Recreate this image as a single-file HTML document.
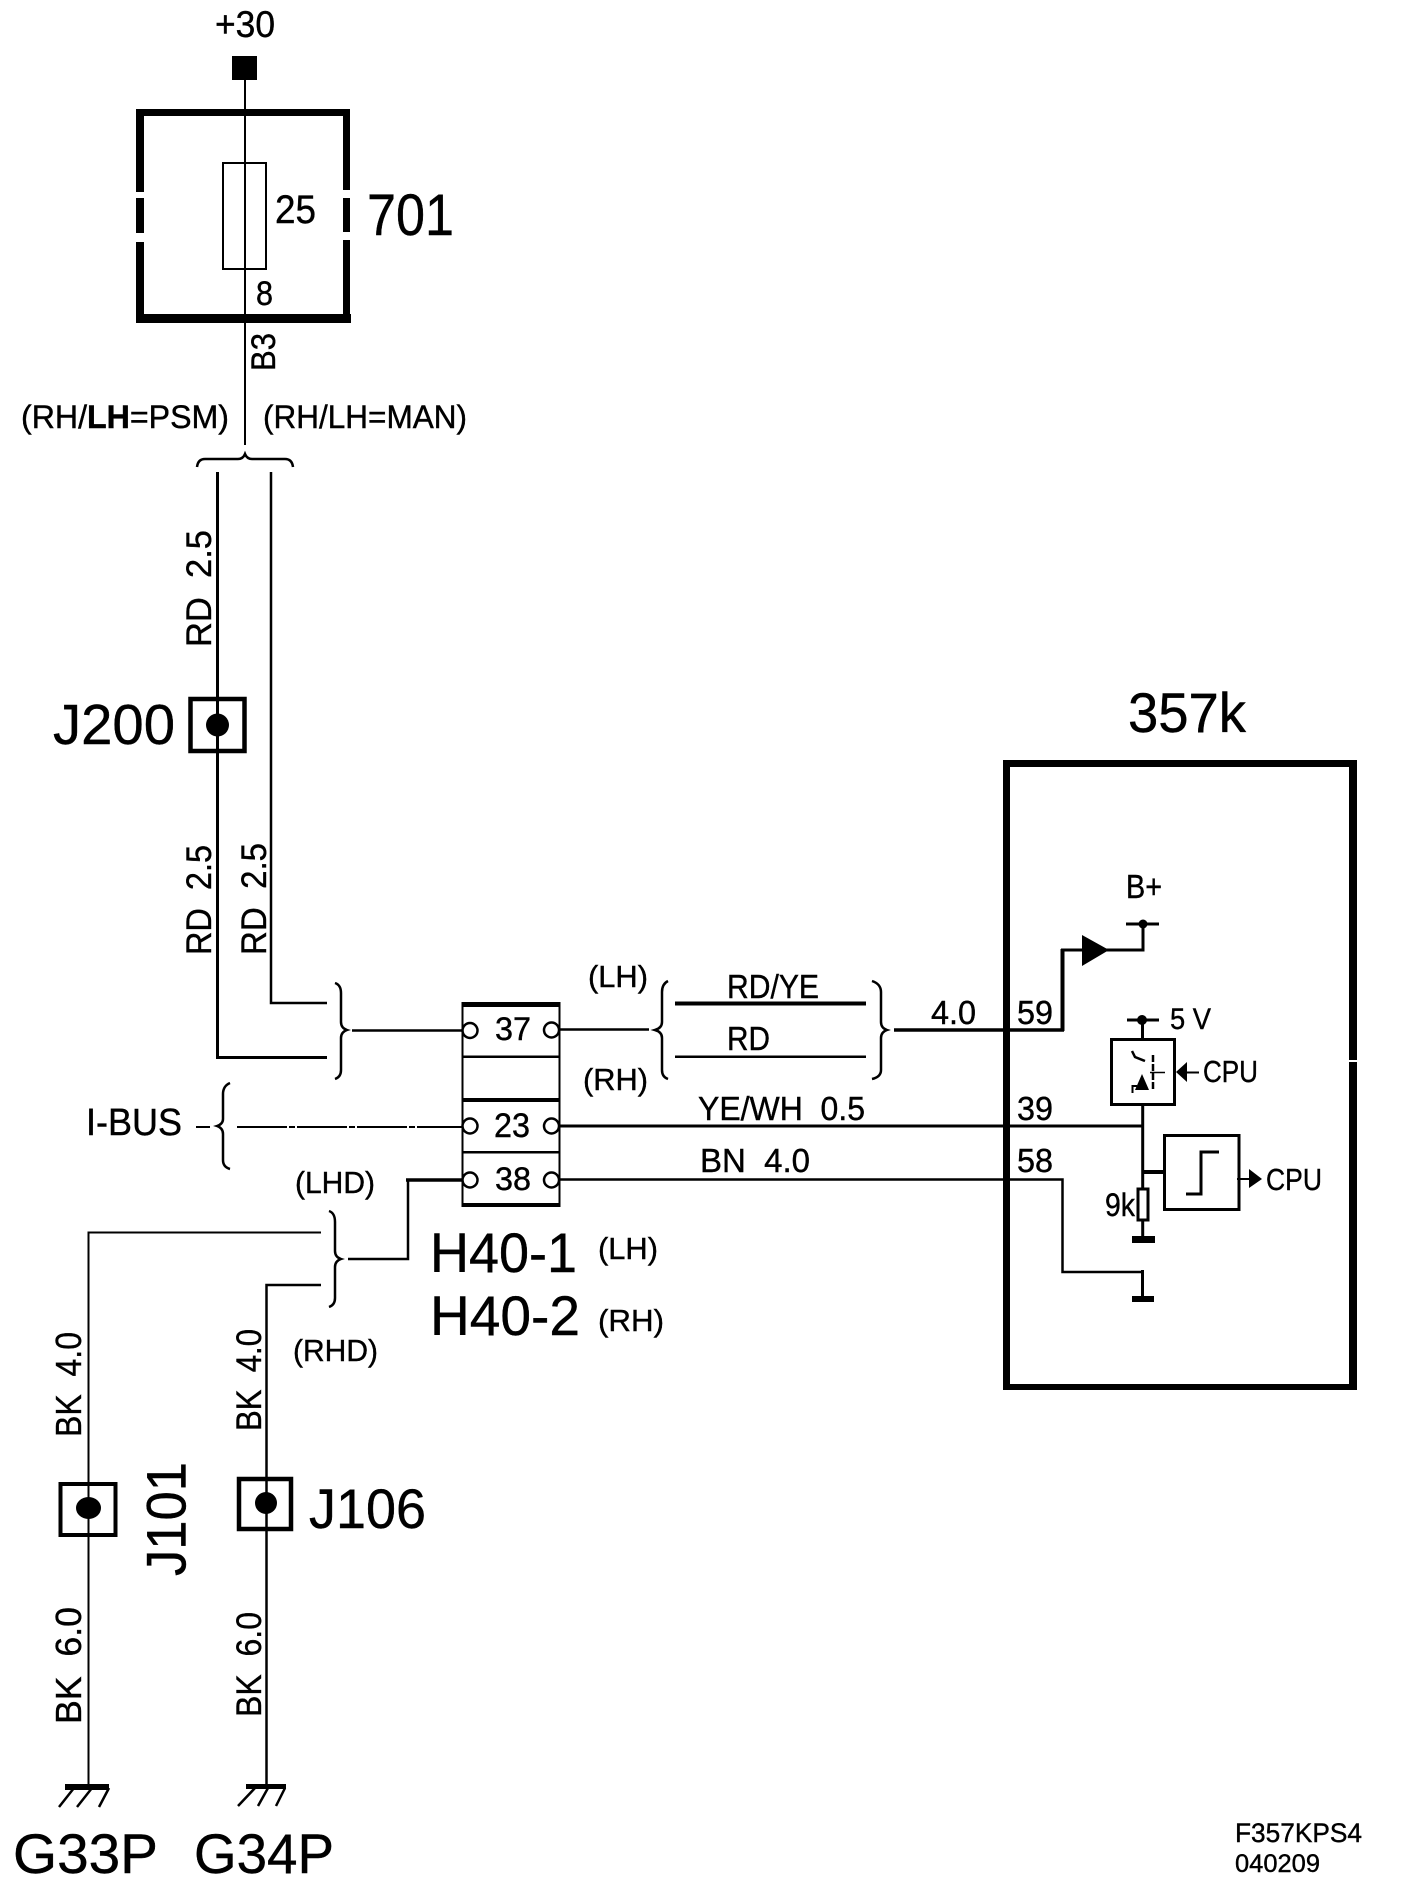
<!DOCTYPE html>
<html>
<head>
<meta charset="utf-8">
<style>
html,body{margin:0;padding:0;background:#fff;}
svg{display:block;}
text{font-family:"Liberation Sans",sans-serif;fill:#000;stroke:#000;stroke-width:.4;white-space:pre;}
.w{fill:none;stroke:#000;}
</style>
</head>
<body>
<svg xmlns="http://www.w3.org/2000/svg" width="1408" height="1898" viewBox="0 0 1408 1898">
<rect width="1408" height="1898" fill="#fff"/>

<!-- +30 and fuse box 701 -->
<text x="215" y="37" font-size="37" textLength="60" lengthAdjust="spacingAndGlyphs">+30</text>
<rect x="232" y="56" width="25" height="24" fill="#000"/>
<line class="w" x1="245" y1="80" x2="245" y2="445" stroke-width="2"/>
<g fill="#000">
<rect x="136" y="109" width="214" height="7"/>
<rect x="136" y="314" width="215" height="9"/>
<rect x="136" y="109" width="8" height="83"/>
<rect x="136" y="198" width="8" height="35"/>
<rect x="136" y="242" width="8" height="80"/>
<rect x="343" y="109" width="7" height="81"/>
<rect x="343" y="198" width="7" height="34"/>
<rect x="343" y="240" width="7" height="80"/>
</g>
<rect class="w" x="223" y="163" width="43" height="106" stroke-width="2"/>
<text x="275" y="223" font-size="40" textLength="41" lengthAdjust="spacingAndGlyphs">25</text>
<text x="367" y="235" font-size="58" textLength="87" lengthAdjust="spacingAndGlyphs">701</text>
<text x="256" y="305" font-size="34" textLength="17" lengthAdjust="spacingAndGlyphs">8</text>
<text transform="translate(275,371) rotate(-90)" font-size="34" textLength="38" lengthAdjust="spacingAndGlyphs">B3</text>

<text x="21" y="428" font-size="32" textLength="208" lengthAdjust="spacingAndGlyphs">(RH/<tspan font-weight="bold">LH</tspan>=PSM)</text>
<text x="263" y="428" font-size="32" textLength="204" lengthAdjust="spacingAndGlyphs">(RH/LH=MAN)</text>

<path class="w" stroke-width="2.5" d="M197 467 Q198 459 205 459 L238 459 Q243 459 245 454 Q247 459 252 459 L285 459 Q292 459 293 467"/>

<!-- upper wires -->
<path class="w" stroke-width="3" d="M217.5 472 L217.5 1057.5 L327 1057.5"/>
<path class="w" stroke-width="2.5" d="M271 472 L271 1003 L327 1003"/>

<text transform="translate(211,647) rotate(-90)" font-size="35" textLength="117" lengthAdjust="spacingAndGlyphs">RD  2.5</text>
<text transform="translate(211,955) rotate(-90)" font-size="35" textLength="110" lengthAdjust="spacingAndGlyphs">RD  2.5</text>
<text transform="translate(266,955) rotate(-90)" font-size="35" textLength="112" lengthAdjust="spacingAndGlyphs">RD  2.5</text>

<!-- J200 -->
<rect class="w" x="190.5" y="699" width="54" height="52" stroke-width="4.5"/>
<ellipse cx="217.5" cy="725" rx="11.5" ry="11.5" fill="#000"/>
<text x="53" y="744" font-size="57" textLength="122" lengthAdjust="spacingAndGlyphs">J200</text>

<!-- left brace join -->
<path class="w" stroke-width="2.5" d="M335 983 Q341 985 341 993 L341 1022 Q341 1028 347 1030 Q341 1032 341 1038 L341 1070 Q341 1077 335 1079"/>
<line class="w" x1="352" y1="1030.5" x2="463" y2="1030.5" stroke-width="2.5"/>

<!-- connector H40 -->
<rect class="w" x="462.5" y="1003" width="97" height="203" stroke-width="2"/>
<rect x="462" y="1002" width="98" height="5" fill="#000"/>
<rect x="462" y="1055.5" width="98" height="2.5" fill="#000"/>
<rect x="462" y="1098" width="98" height="4" fill="#000"/>
<rect x="462" y="1151" width="98" height="2.5" fill="#000"/>
<rect x="462" y="1203" width="98" height="4" fill="#000"/>
<g class="w" fill="#fff" stroke="#000" stroke-width="2.5">
<circle cx="470" cy="1030.5" r="7.5" fill="#fff"/>
<circle cx="551.5" cy="1030" r="7.5" fill="#fff"/>
<circle cx="470" cy="1126" r="7.5" fill="#fff"/>
<circle cx="551.5" cy="1126" r="7.5" fill="#fff"/>
<circle cx="470" cy="1180" r="7.5" fill="#fff"/>
<circle cx="551.5" cy="1180" r="7.5" fill="#fff"/>
</g>
<text x="495" y="1040" font-size="32" textLength="36" lengthAdjust="spacingAndGlyphs">37</text>
<text x="494" y="1137" font-size="34" textLength="36" lengthAdjust="spacingAndGlyphs">23</text>
<text x="495" y="1190" font-size="32" textLength="36" lengthAdjust="spacingAndGlyphs">38</text>

<!-- I-BUS -->
<text x="86" y="1135" font-size="38" textLength="96" lengthAdjust="spacingAndGlyphs">I-BUS</text>
<line class="w" x1="196" y1="1127" x2="210" y2="1127" stroke-width="2"/>
<path class="w" stroke-width="2.5" d="M230 1083 Q223 1086 223 1094 L223 1119 Q223 1124 217 1126 Q223 1128 223 1134 L223 1160 Q223 1167 230 1169"/>
<line class="w" x1="237" y1="1127" x2="462" y2="1127" stroke-width="2" stroke-dasharray="50 2 6 2"/>

<!-- LH/RH and mid brace -->
<text x="588" y="987" font-size="31" textLength="60" lengthAdjust="spacingAndGlyphs">(LH)</text>
<text x="583" y="1090" font-size="31" textLength="65" lengthAdjust="spacingAndGlyphs">(RH)</text>
<line class="w" x1="559" y1="1029.5" x2="649" y2="1029.5" stroke-width="2.5"/>
<path class="w" stroke-width="2.5" d="M668 981 Q662 984 662 992 L662 1022 Q662 1028 655 1030 Q662 1032 662 1038 L662 1070 Q662 1077 668 1079"/>
<text x="727" y="998" font-size="33" textLength="92" lengthAdjust="spacingAndGlyphs">RD/YE</text>
<line class="w" x1="675" y1="1003.5" x2="866" y2="1003.5" stroke-width="4"/>
<text x="727" y="1050" font-size="33" textLength="43" lengthAdjust="spacingAndGlyphs">RD</text>
<line class="w" x1="675" y1="1056.7" x2="866" y2="1056.7" stroke-width="2.5"/>
<path class="w" stroke-width="2.5" d="M872 981 Q881 984 881 992 L881 1022 Q881 1028 887 1030 Q881 1032 881 1038 L881 1070 Q881 1077 872 1079"/>
<line class="w" x1="894" y1="1030" x2="1064" y2="1030" stroke-width="3.5"/>
<line class="w" x1="1062.5" y1="1031" x2="1062.5" y2="949" stroke-width="4"/>
<line class="w" x1="1061" y1="950" x2="1084" y2="950" stroke-width="3"/>

<!-- 39 / 58 wires -->
<line class="w" x1="559" y1="1126" x2="1143" y2="1126" stroke-width="3"/>
<path class="w" stroke-width="2.5" d="M559 1179.5 L1062.5 1179.5 L1062.5 1272 L1142 1272"/>
<text x="931" y="1024" font-size="33" textLength="45" lengthAdjust="spacingAndGlyphs">4.0</text>
<text x="1017" y="1024" font-size="33" textLength="36" lengthAdjust="spacingAndGlyphs">59</text>
<text x="1017" y="1120" font-size="33" textLength="36" lengthAdjust="spacingAndGlyphs">39</text>
<text x="1017" y="1172" font-size="33" textLength="36" lengthAdjust="spacingAndGlyphs">58</text>
<text x="698" y="1120" font-size="33" textLength="167" lengthAdjust="spacingAndGlyphs">YE/WH  0.5</text>
<text x="700" y="1172" font-size="33" textLength="110" lengthAdjust="spacingAndGlyphs">BN  4.0</text>

<!-- module 357k -->
<text x="1128" y="732" font-size="56" textLength="118" lengthAdjust="spacingAndGlyphs">357k</text>
<g fill="#000">
<rect x="1003" y="760" width="354" height="7"/>
<rect x="1003" y="1384" width="354" height="6"/>
<rect x="1003" y="760" width="7" height="630"/>
<rect x="1349" y="760" width="8" height="300"/>
<rect x="1349" y="1062" width="8" height="328"/>
</g>

<!-- B+ -->
<text x="1126" y="898" font-size="33" textLength="36" lengthAdjust="spacingAndGlyphs">B+</text>
<line class="w" x1="1126" y1="924" x2="1159" y2="924" stroke-width="3"/>
<circle cx="1143" cy="924" r="4.5" fill="#000"/>
<path class="w" stroke-width="3" d="M1143 924 L1143 950 L1105 950"/>
<polygon points="1082,935 1109,950 1082,966" fill="#000"/>

<!-- 5V driver -->
<text x="1170" y="1029" font-size="30" textLength="41" lengthAdjust="spacingAndGlyphs">5 V</text>
<line class="w" x1="1127" y1="1020" x2="1159" y2="1020" stroke-width="3"/>
<circle cx="1142" cy="1020" r="5" fill="#000"/>
<line class="w" x1="1142.5" y1="1020" x2="1142.5" y2="1038" stroke-width="3"/>
<rect class="w" x="1111.5" y="1039.5" width="63" height="65" stroke-width="3"/>
<path class="w" stroke-width="2.5" d="M1132 1051 L1135 1057 L1145 1061"/>
<line class="w" x1="1153" y1="1055" x2="1153" y2="1091" stroke-width="2.5" stroke-dasharray="7 2"/>
<line class="w" x1="1150" y1="1072.5" x2="1165" y2="1072.5" stroke-width="1.5"/>
<polygon points="1142,1074 1135,1090 1149,1090" fill="#000"/>
<path class="w" stroke-width="2" d="M1132.5 1093 L1132.5 1086 L1137 1086"/>
<polygon points="1176,1072 1187,1062 1187,1082" fill="#000"/>
<line class="w" x1="1185" y1="1072.5" x2="1199" y2="1072.5" stroke-width="2"/>
<text x="1203" y="1082" font-size="31" textLength="55" lengthAdjust="spacingAndGlyphs">CPU</text>

<!-- trigger, resistor -->
<line class="w" x1="1142.7" y1="1105" x2="1142.7" y2="1188" stroke-width="3"/>
<line class="w" x1="1143" y1="1172" x2="1164" y2="1172" stroke-width="4"/>
<rect class="w" x="1138" y="1189" width="10" height="31" stroke-width="3" fill="#fff"/>
<line class="w" x1="1142.7" y1="1221" x2="1142.7" y2="1237" stroke-width="3"/>
<rect x="1132" y="1236" width="23" height="7" fill="#000"/>
<text x="1105" y="1216" font-size="32" textLength="30" lengthAdjust="spacingAndGlyphs">9k</text>
<rect class="w" x="1164.5" y="1135.5" width="74.5" height="74" stroke-width="3"/>
<path class="w" stroke-width="3" d="M1186 1194 L1201 1194 L1201 1152 L1219 1152"/>
<line class="w" x1="1237" y1="1179" x2="1250" y2="1179" stroke-width="2"/>
<polygon points="1249,1169 1262,1179 1249,1188" fill="#000"/>
<text x="1266" y="1190" font-size="31" textLength="56" lengthAdjust="spacingAndGlyphs">CPU</text>

<!-- module ground -->
<line class="w" x1="1142.5" y1="1270" x2="1142.5" y2="1297" stroke-width="3"/>
<rect x="1132" y="1296" width="22" height="6" fill="#000"/>

<!-- 38 left wire and lower brace -->
<path class="w" stroke-width="2.5" d="M348 1259 L408 1259 L408 1180"/>
<line class="w" x1="406" y1="1180" x2="463" y2="1180" stroke-width="3.5"/>
<path class="w" stroke-width="2.5" d="M329 1211 Q335 1213 335 1222 L335 1251 Q335 1257 341 1259 Q335 1261 335 1267 L335 1298 Q335 1305 329 1307"/>
<text x="295" y="1193" font-size="31" textLength="80" lengthAdjust="spacingAndGlyphs">(LHD)</text>
<text x="293" y="1361" font-size="31" textLength="85" lengthAdjust="spacingAndGlyphs">(RHD)</text>
<text x="430" y="1272" font-size="56" textLength="147" lengthAdjust="spacingAndGlyphs">H40-1</text>
<text x="430" y="1335" font-size="56" textLength="150" lengthAdjust="spacingAndGlyphs">H40-2</text>
<text x="598" y="1259" font-size="31" textLength="60" lengthAdjust="spacingAndGlyphs">(LH)</text>
<text x="598" y="1331" font-size="31" textLength="66" lengthAdjust="spacingAndGlyphs">(RH)</text>

<!-- ground wires -->
<path class="w" stroke-width="2" d="M321 1232.5 L88.5 1232.5 L88.5 1785"/>
<path class="w" stroke-width="2.5" d="M321 1285 L266.5 1285 L266.5 1785"/>
<text transform="translate(81,1437) rotate(-90)" font-size="36" textLength="105" lengthAdjust="spacingAndGlyphs">BK  4.0</text>
<text transform="translate(261,1431) rotate(-90)" font-size="35" textLength="102" lengthAdjust="spacingAndGlyphs">BK  4.0</text>
<text transform="translate(81,1724) rotate(-90)" font-size="36" textLength="117" lengthAdjust="spacingAndGlyphs">BK  6.0</text>
<text transform="translate(261,1717) rotate(-90)" font-size="35" textLength="105" lengthAdjust="spacingAndGlyphs">BK  6.0</text>

<!-- J101 / J106 -->
<rect class="w" x="60.5" y="1484" width="55" height="51" stroke-width="4"/>
<ellipse cx="88.5" cy="1508" rx="12.5" ry="11" fill="#000"/>
<text transform="translate(185.5,1576) rotate(-90)" font-size="56" textLength="114" lengthAdjust="spacingAndGlyphs">J101</text>
<rect class="w" x="239" y="1479" width="52" height="50" stroke-width="4.5"/>
<ellipse cx="266" cy="1503" rx="11" ry="11" fill="#000"/>
<text x="309" y="1528" font-size="56" textLength="117" lengthAdjust="spacingAndGlyphs">J106</text>

<!-- grounds -->
<rect x="65" y="1784" width="44" height="6" fill="#000"/>
<path class="w" stroke-width="2.5" d="M74 1788 L59 1807 M92 1788 L77 1807 M109 1788 L99 1807"/>
<rect x="246" y="1784" width="40" height="5" fill="#000"/>
<path class="w" stroke-width="2.5" d="M255 1788 L238 1806 M268 1788 L258 1806 M285 1788 L276 1806"/>
<text x="13" y="1873" font-size="56" textLength="145" lengthAdjust="spacingAndGlyphs">G33P</text>
<text x="194" y="1873" font-size="56" textLength="140" lengthAdjust="spacingAndGlyphs">G34P</text>

<!-- drawing codes -->
<text x="1235" y="1842" font-size="27" textLength="127" lengthAdjust="spacingAndGlyphs">F357KPS4</text>
<text x="1235" y="1872" font-size="25" textLength="85" lengthAdjust="spacingAndGlyphs">040209</text>
</svg>
</body>
</html>
